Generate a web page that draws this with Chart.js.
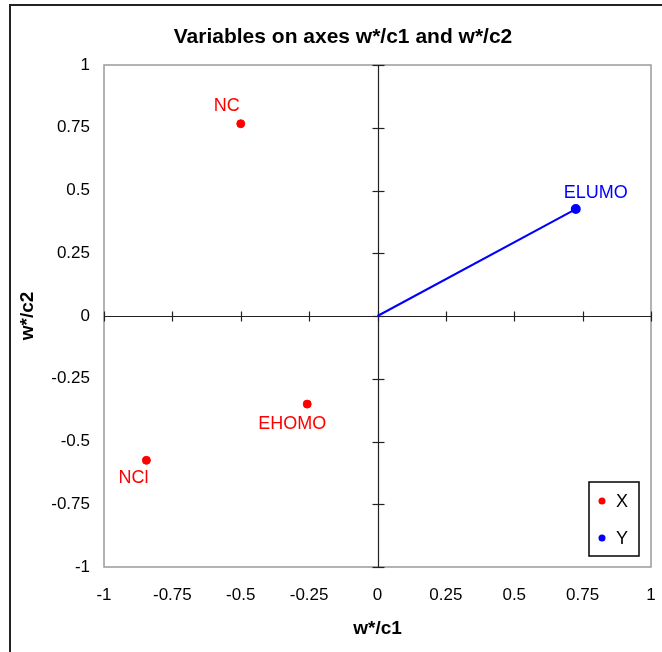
<!DOCTYPE html>
<html><head><meta charset="utf-8">
<script src="https://cdn.jsdelivr.net/npm/chart.js@4.4.1/dist/chart.umd.min.js"></script>
<style>html,body{margin:0;padding:0;background:#fff;}</style>
</head><body>
<canvas id="c" width="662" height="652"></canvas>
<script>
// ---- data ----
const chartTitle = 'Variables on axes w*/c1 and w*/c2';
const xAxisTitle = 'w*/c1';
const yAxisTitle = 'w*/c2';
const seriesNames = ['X', 'Y'];
const xVarNames = ['NC', 'EHOMO', 'NCl'];
const xVarC1 = [-0.5, -0.257, -0.845];
const xVarC2 = [0.766, -0.351, -0.575];
const yVarNames = ['ELUMO'];
const yVarC1 = [0.725];
const yVarC2 = [0.426];
const xTickLabels = ['-1', '-0.75', '-0.5', '-0.25', '0', '0.25', '0.5', '0.75', '1'];
const yTickLabels = ['-1', '-0.75', '-0.5', '-0.25', '0', '0.25', '0.5', '0.75', '1'];

// ---- styling ----
const FONT = "'Liberation Sans', Arial, sans-serif";
const RED = '#ff0000', BLUE = '#0000ff';
// label offsets (px) relative to each point
const xLabelOffsets = [[-14, -18], [-15, 20], [-13, 18]];
const yLabelOffsets = [[20, -16]];

const xPoints = xVarC1.map((v, i) => ({x: v, y: xVarC2[i]}));
const yLine = [{x: 0, y: 0}].concat(yVarC1.map((v, i) => ({x: v, y: yVarC2[i]})));

const decor = {
  id: 'decor',
  beforeDatasetsDraw(chart) {
    const {ctx, chartArea: a, scales: {x, y}} = chart;
    ctx.save();
    const line = (x1, y1, x2, y2) => { ctx.beginPath(); ctx.moveTo(x1, y1); ctx.lineTo(x2, y2); ctx.stroke(); };
    ctx.strokeStyle = '#9a9a9a'; ctx.lineWidth = 1.5;
    ctx.strokeRect(a.left, a.top, a.right - a.left, a.bottom - a.top);
    const x0 = Math.round(x.getPixelForValue(0)) + 0.5;
    const y0 = Math.round(y.getPixelForValue(0)) + 0.5;
    ctx.strokeStyle = '#222'; ctx.lineWidth = 1.2;
    line(a.left, y0, a.right, y0);
    line(x0, a.top, x0, a.bottom);
    x.ticks.forEach(t => { const p = Math.round(x.getPixelForValue(t.value)) + 0.5; line(p, y0 - 5, p, y0 + 5); });
    y.ticks.forEach(t => { const p = Math.round(y.getPixelForValue(t.value)) + 0.5; line(x0 - 6, p, x0 + 6, p); });
    ctx.restore();
  },
  afterDraw(chart) {
    const {ctx, chartArea: a} = chart;
    ctx.save();
    // outer frame (left and top)
    ctx.fillStyle = '#222';
    ctx.fillRect(9, 4, 2, 652);
    ctx.fillRect(9, 4, 662, 2);
    // title
    ctx.fillStyle = '#000';
    ctx.font = 'bold 21px ' + FONT;
    ctx.textAlign = 'center'; ctx.textBaseline = 'middle';
    ctx.fillText(chartTitle, 343, 37);
    // point labels
    ctx.font = '18px ' + FONT;
    const m0 = chart.getDatasetMeta(0).data;
    m0.forEach((el, i) => {
      ctx.fillStyle = RED;
      ctx.fillText(xVarNames[i], el.x + xLabelOffsets[i][0], el.y + xLabelOffsets[i][1]);
    });
    const m1 = chart.getDatasetMeta(1).data;
    yVarNames.forEach((n, i) => {
      const el = m1[i + 1];
      ctx.fillStyle = BLUE;
      ctx.fillText(n, el.x + yLabelOffsets[i][0], el.y + yLabelOffsets[i][1]);
    });
    // legend
    const bw = 50, bh = 74;
    const bx = a.right - 12 - bw, by = a.bottom - 11 - bh;
    ctx.fillStyle = '#fff';
    ctx.fillRect(bx, by, bw, bh);
    ctx.strokeStyle = '#000'; ctx.lineWidth = 1.5;
    ctx.strokeRect(bx, by, bw, bh);
    const cols = [RED, BLUE];
    seriesNames.forEach((s, i) => {
      const cy = by + 19 + i * 37;
      ctx.fillStyle = cols[i];
      ctx.beginPath(); ctx.arc(bx + 13, cy, 3.5, 0, Math.PI * 2); ctx.fill();
      ctx.fillStyle = '#000';
      ctx.textAlign = 'left';
      ctx.font = '18px ' + FONT;
      ctx.fillText(s, bx + 27, cy + 1);
    });
    ctx.restore();
  }
};

new Chart(document.getElementById('c'), {
  type: 'scatter',
  data: {
    datasets: [
      {label: seriesNames[0], data: xPoints, backgroundColor: RED, borderColor: RED, pointRadius: 4, pointHoverRadius: 4, showLine: false},
      {label: seriesNames[1], data: yLine, backgroundColor: BLUE, borderColor: BLUE, borderWidth: 2,
       pointRadius: yLine.map((p, i) => i === 0 ? 0 : 4), pointHoverRadius: 4, showLine: true}
    ]
  },
  options: {
    responsive: false,
    devicePixelRatio: 1,
    animation: false,
    events: [],
    layout: {padding: {left: 11, right: 11, top: 65, bottom: 0}},
    plugins: {legend: {display: false}, title: {display: false}, tooltip: {enabled: false}},
    scales: {
      x: {
        type: 'linear', min: -1, max: 1,
        afterFit(s) { s.height = 85; s.paddingLeft = 0; s.paddingRight = 0; },
        grid: {display: false, drawTicks: false},
        border: {display: false},
        ticks: {stepSize: 0.25, padding: 18, color: '#000', font: {family: FONT, size: 17},
                maxRotation: 0, autoSkip: false, callback: (v, i) => xTickLabels[i]},
        title: {display: true, text: xAxisTitle, color: '#000', font: {family: FONT, size: 19, weight: 'bold'}, padding: {top: 0, bottom: 12}}
      },
      y: {
        type: 'linear', min: -1, max: 1,
        afterFit(s) { s.width = 93; s.paddingTop = 0; s.paddingBottom = 0; },
        grid: {display: false, drawTicks: false},
        border: {display: false},
        ticks: {stepSize: 0.25, padding: 14, color: '#000', font: {family: FONT, size: 17},
                autoSkip: false, callback: (v, i) => yTickLabels[i]},
        title: {display: true, text: yAxisTitle, color: '#000', font: {family: FONT, size: 19, weight: 'bold'}, padding: {top: 5, bottom: 0}}
      }
    }
  },
  plugins: [decor]
});
</script>
</body></html>
